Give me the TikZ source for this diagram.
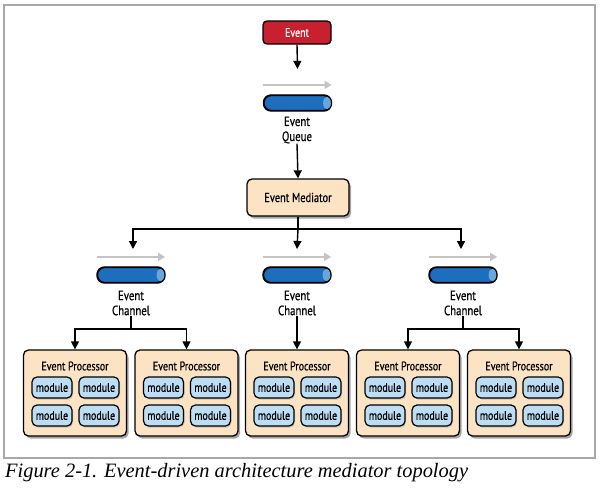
\documentclass[tikz,border=0pt]{standalone}
\usepackage{fontspec}
\setmainfont{Liberation Serif}
\newfontfamily\cond{PT Sans}[FakeStretch=0.8,FakeBold=0.6]
\usetikzlibrary{arrows.meta,shadows,calc}
\definecolor{evred}{HTML}{C8202F}
\definecolor{medfill}{HTML}{FCE3C4}
\definecolor{cylblue}{HTML}{1D6FBE}
\definecolor{cylcap}{HTML}{66A8DE}
\definecolor{modfill}{HTML}{BCDDF4}
\definecolor{framegray}{HTML}{A8A8A8}
\definecolor{flowgray}{HTML}{C4C4C4}
\begin{document}
\begin{tikzpicture}[x=1pt,y=-1pt,
  arr/.style={line width=1.4pt,-{Triangle[width=8pt,length=8pt]}},
  plain/.style={line width=1.4pt},
  flow/.style={line width=2.4pt,flowgray,-{Triangle[width=8pt,length=7pt]}},
  shad/.style={drop shadow={shadow xshift=2pt,shadow yshift=-2.5pt,opacity=0.5,fill=black!70}},
  evbox/.style={draw=black,line width=1.3pt,fill=evred,rounded corners=4pt,minimum width=68pt,minimum height=23pt,text=white,font=\cond\fontsize{12.5}{14}\selectfont,inner sep=0pt},
  medbox/.style={draw=black,line width=1.3pt,fill=medfill,rounded corners=5pt,minimum width=102pt,minimum height=37pt,font=\cond\fontsize{13}{14}\selectfont,inner sep=0pt,shad},
  procbox/.style={draw=black,line width=1.3pt,fill=medfill,rounded corners=5pt,minimum width=103pt,minimum height=86pt,inner sep=0pt,shad},
  proctitle/.style={font=\cond\fontsize{12.5}{14}\selectfont,inner sep=0pt},
  modbox/.style={draw=black,line width=1.2pt,fill=modfill,rounded corners=5pt,minimum width=40pt,minimum height=21pt,font=\cond\fontsize{12.5}{14}\selectfont,inner sep=0pt,drop shadow={shadow xshift=1pt,shadow yshift=-1.5pt,opacity=0.35}},
  cylbody/.style={draw=black,line width=1.2pt,fill=cylblue,rounded corners=7.5pt,minimum width=67pt,minimum height=15pt,inner sep=0pt},
  lbl/.style={align=center,font=\cond\fontsize{13.5}{15}\selectfont,inner sep=0pt}
]
\useasboundingbox (0,0) rectangle (600,491);
\draw[framegray,line width=1.3pt] (4,5) rectangle (595,458);

% top
\node[evbox] (ev) at (297,32.5) {Event};
\node[cylbody] (q) at (297.5,103) {};
\fill[cylcap] ($(q.east)+(-4.5,0)$) ellipse (4pt and 6.3pt);
\draw[line width=1.2pt,rounded corners=7.5pt] (q.south west) rectangle (q.north east);
\coordinate (qin) at ($(q.north)+(0,-26)$);
\draw[flow] ($(q.north west)+(0,-10)$) -- ($(q.north east)+(0,-10)$);
\draw[arr] (ev.south) -- (qin);
\node[lbl] (ql) at (297,130) {Event\\Queue};
\node[medbox] (med) at (298,197.5) {Event Mediator};
\draw[arr] (ql.south) -- (med.north);

% channels
\foreach \i/\x in {1/131,2/297,3/463}{
  \node[cylbody] (c\i) at (\x,275) {};
  \fill[cylcap] ($(c\i.east)+(-4.5,0)$) ellipse (4pt and 6.3pt);
  \draw[line width=1.2pt,rounded corners=7.5pt] (c\i.south west) rectangle (c\i.north east);
  \draw[flow] ($(c\i.north west)+(0,-10)$) -- ($(c\i.north east)+(0,-10)$);
  \node[lbl] (cl\i) at (\x,303) {Event\\Channel};
}
\coordinate (cin1) at (133,249);
\coordinate (cin2) at (297,249);
\coordinate (cin3) at (461,249);
\coordinate (hub) at (298,229);
\draw[plain] (med.south) -- (hub);
\draw[arr] (hub) -| (cin1);
\draw[arr] (hub) -| (cin3);
\draw[arr] (hub) -- (cin2);

% processors
\foreach \i/\x in {1/75,2/186.5,3/297,4/408,5/519}{
  \node[procbox] (p\i) at (\x,393) {};
  \node[proctitle] (pt\i) at (\x,366) {Event Processor};
  \node[modbox] (m\i a) at (\x-23,387.5) {module};
  \node[modbox] (m\i b) at (\x+24,387.5) {module};
  \node[modbox] (m\i c) at (\x-23,415.5) {module};
  \node[modbox] (m\i d) at (\x+24,415.5) {module};
}
\coordinate (s1) at (131,329);
\coordinate (s3) at (463,329);
\draw[plain] (cl1.south) -- (s1);
\draw[arr] (s1) -| (p1.north);
\draw[arr] (s1) -| (p2.north);
\draw[arr] (cl2.south) -- (p3.north);
\draw[plain] (cl3.south) -- (s3);
\draw[arr] (s3) -| (p4.north);
\draw[arr] (s3) -| (p5.north);

\node[anchor=base west,inner sep=0pt] (cap) at (5,477) {\itshape\fontsize{20.4}{24}\selectfont Figure 2-1. Event-driven architecture mediator topology};
\end{tikzpicture}
\end{document}
